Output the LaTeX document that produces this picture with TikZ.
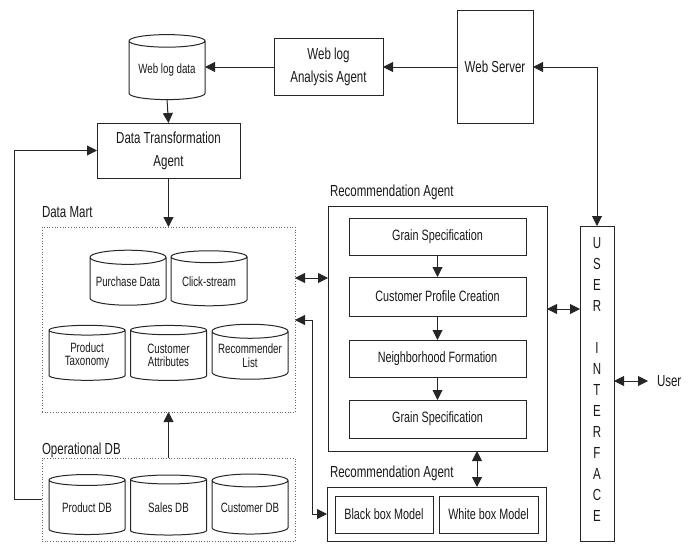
\documentclass[tikz,border=0pt]{standalone}
\usepackage{fontspec}
\setmainfont[FakeStretch=0.72]{Liberation Sans}
\usetikzlibrary{shapes.geometric,arrows.meta,calc}
\begin{document}
\begin{tikzpicture}[x=1pt,y=-1pt,
  every node/.style={inner sep=0pt, outer sep=0pt, text=black!90},
  mainfont/.style={font=\fontsize{16}{23}\selectfont},
  boxfont/.style={font=\fontsize{15}{18}\selectfont},
  cylfont/.style={font=\fontsize{13.5}{13.5}\selectfont},
  line/.style={draw=black!85, line width=1pt},
  plainbox/.style={line, rectangle, align=center, mainfont},
  innerbox/.style={line, rectangle, align=center, boxfont},
  group/.style={draw=black!60, dotted, line width=0.7pt, rectangle},
  dbcyl/.style={line, cylinder, shape border rotate=90, aspect=0.22,
     minimum width=76pt, align=center, cylfont},
  arr/.style={line, -{Triangle[length=10pt,width=10pt]}},
  darr/.style={line, {Triangle[length=10pt,width=10pt]}-{Triangle[length=10pt,width=10pt]}},
  lbl/.style={anchor=west, mainfont}
]
\useasboundingbox (0,0) rectangle (698,543);

% top row
\node[dbcyl, minimum height=65pt] (wld) at (167,70.5) {Web log data};
\node[plainbox, minimum width=109pt, minimum height=57pt] (wla) at (328.5,67) {Web log\\Analysis Agent};
\node[plainbox, minimum width=76pt, minimum height=112pt] (ws) at (495,67) {Web Server};
\node[plainbox, minimum width=143pt, minimum height=55pt] (dta) at (168.5,150.5) {Data Transformation\\Agent};

% data mart
\node[lbl] (dmlbl) at (42,212) {Data Mart};
\node[group, minimum width=253pt, minimum height=185pt] (dm) at (168.5,319.5) {};
\node[dbcyl, minimum height=55pt] (pd) at (128,281.5) {Purchase Data};
\node[dbcyl, minimum height=55pt] (cs) at (209,281.5) {Click-stream};
\node[dbcyl, minimum height=55pt] (pt) at (87,355.5) {Product\\Taxonomy};
\node[dbcyl, minimum height=55pt] (ca) at (168.5,355.5) {Customer\\Attributes};
\node[dbcyl, minimum height=55pt] (rl) at (250,355.5) {Recommender\\List};

% operational db
\node[lbl] (odblbl) at (42,450) {Operational DB};
\node[group, minimum width=253pt, minimum height=83pt] (odb) at (168.5,499.5) {};
\node[dbcyl, minimum height=60pt] (pdb) at (87,507.5) {Product DB};
\node[dbcyl, minimum height=60pt] (sdb) at (168.5,507.5) {Sales DB};
\node[dbcyl, minimum height=60pt] (cdb) at (250,507.5) {Customer DB};

% recommendation agent
\node[lbl] (ralbl) at (330,192) {Recommendation Agent};
\node[line, rectangle, minimum width=219pt, minimum height=245pt] (ra) at (437.5,328.5) {};
\node[innerbox, minimum width=177pt, minimum height=37pt] (gs1) at (437.5,236.5) {Grain Specification};
\node[innerbox, minimum width=177pt, minimum height=39pt] (cpc) at (437.5,296.5) {Customer Profile Creation};
\node[innerbox, minimum width=177pt, minimum height=37pt] (nf) at (437.5,358.5) {Neighborhood Formation};
\node[innerbox, minimum width=177pt, minimum height=38pt] (gs2) at (437.5,419) {Grain Specification};

% second recommendation agent
\node[lbl] (ra2lbl) at (330,473) {Recommendation Agent};
\node[line, rectangle, minimum width=219pt, minimum height=54pt] (ra2) at (436.5,514) {};
\node[innerbox, minimum width=98pt, minimum height=37pt] (bb) at (384,514.5) {Black box Model};
\node[innerbox, minimum width=99pt, minimum height=37pt] (wb) at (488.5,514.5) {White box Model};

% user interface
\node[line, rectangle, minimum width=34pt, minimum height=315pt] (ui) at (597,383.5) {};
\node[align=center, font=\fontsize{16}{21}\selectfont] (uitext) at (597,379)
  {U\\S\\E\\R\\[21pt]I\\N\\T\\E\\R\\F\\A\\C\\E};
\node[lbl] (user) at (657,381) {User};

% connectors
\draw[arr] (ws.west) -- (wla.east);
\draw[arr] (wla.west) -- (wla.west -| wld.east);
\draw[arr] (wld.south) -- (dta.north);
\draw[arr] (dta.south) -- (dm.north);
\draw[arr] (odb.north) -- (dm.south);
\draw[arr] (odb.west) -- ++(-28,0) |- (dta.west);
\draw[darr] (ws.east) -| (ui.north);
\draw[darr] (dm.east |- 0,278) -- (ra.west |- 0,278);
\draw[darr] (dm.east |- 0,320) -| ($(ra2.west)+(-15,0)$) -- (ra2.west);
\draw[darr] (ra.south -| 477,0) -- (ra2.north -| 477,0);
\draw[darr] (ra.east |- 0,309) -- (ui.west |- 0,309);
\draw[darr, shorten >=9pt] (ui.east |- user.west) -- (user.west);
\draw[arr] (gs1) -- (cpc);
\draw[arr] (cpc) -- (nf);
\draw[arr] (nf) -- (gs2);
\end{tikzpicture}
\end{document}
